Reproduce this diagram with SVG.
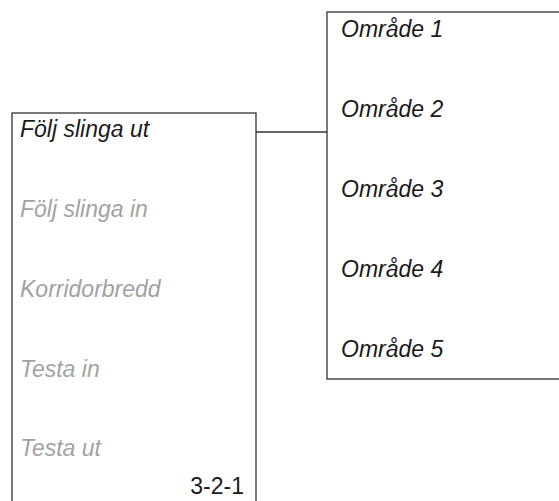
<svg xmlns="http://www.w3.org/2000/svg" width="559" height="501" viewBox="0 0 559 501">
<style>
.box{fill:#fff;stroke:#333;stroke-width:1.3}
.t{font-family:"Liberation Sans",Arial,sans-serif;font-size:23px;font-style:italic;fill:#1a1a1a}
.g{fill:#a2a2a2}
.n{font-family:"Liberation Sans",Arial,sans-serif;font-size:23px;fill:#1a1a1a}
.c{fill:none;stroke:#333;stroke-width:1.3}
</style>
<rect width="559" height="501" fill="#fff"/>
<g id="connectors">
<path class="c" d="M256,132 H327"/>
</g>
<g id="menu">
<rect class="box" x="12" y="113" width="244" height="400"/>
<text class="t" x="20" y="137">Följ slinga ut</text>
<text class="t g" x="20" y="217">Följ slinga in</text>
<text class="t g" x="20" y="297">Korridorbredd</text>
<text class="t g" x="20" y="377">Testa in</text>
<text class="t g" x="20" y="456">Testa ut</text>
<text class="n" x="244" y="494" text-anchor="end">3-2-1</text>
</g>
<g id="areas">
<rect class="box" x="327" y="12" width="240" height="367"/>
<text class="t" x="341" y="37">Område 1</text>
<text class="t" x="341" y="117">Område 2</text>
<text class="t" x="341" y="197">Område 3</text>
<text class="t" x="341" y="277">Område 4</text>
<text class="t" x="341" y="357">Område 5</text>
</g>
</svg>
